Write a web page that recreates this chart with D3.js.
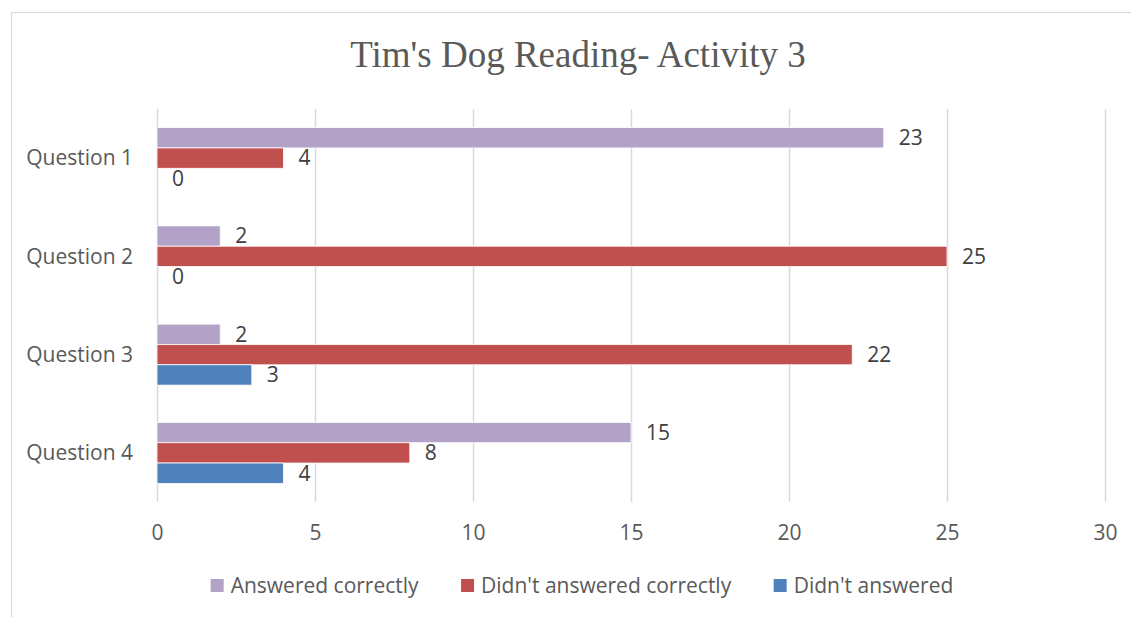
<!DOCTYPE html>
<html>
<head>
<meta charset="utf-8">
<script src="https://cdn.jsdelivr.net/npm/d3@7"></script>
<style>
  body { margin: 0; background: #fff; }
  svg { display: block; }
</style>
</head>
<body>
<script>
// chart data
var questions = ["Question 1", "Question 2", "Question 3", "Question 4"];
var seriesNames = ["Answered correctly", "Didn't answered correctly", "Didn't answered"];
var answeredCorrectly = [23, 2, 2, 15];
var answeredWrong = [4, 25, 22, 8];
var notAnswered = [0, 0, 3, 4];
var seriesColors = ["#b3a2c7", "#c0504d", "#4f81bd"];
var xTicks = [0, 5, 10, 15, 20, 25, 30];

function draw() {
    var width = 1131, height = 617;
    var left = 157, right = 1105, top = 109, bottom = 502;
    var font = "'Open Sans', sans-serif";

    var svg = d3.select("body")
        .append("svg")
        .attr("width", width)
        .attr("height", height);

    // chart border (runs off right and bottom edges)
    svg.append("rect")
        .attr("x", 11.5).attr("y", 12.5)
        .attr("width", 1200).attr("height", 700)
        .attr("fill", "none")
        .attr("stroke", "#d9d9d9")
        .attr("stroke-width", 1.2);

    svg.append("text")
        .attr("x", 578).attr("y", 67)
        .attr("text-anchor", "middle")
        .style("font-family", "'Liberation Serif', 'Times New Roman', serif")
        .style("font-size", "37px")
        .style("fill", "#595959")
        .text("Tim's Dog Reading- Activity 3");

    var x = d3.scaleLinear().domain([0, 30]).range([left, right]);
    var y = d3.scaleBand().domain(questions).range([top, bottom]);
    var inner = d3.scaleBand().domain(seriesNames).range([0, 61]);
    var groupOff = (y.bandwidth() - 61) / 2;

    // gridlines + tick labels
    var xAxis = svg.append("g")
        .attr("transform", "translate(0," + bottom + ")")
        .call(d3.axisBottom(x).tickValues(xTicks).tickSize(-(bottom - top)).tickFormat(d3.format("d")));
    xAxis.select(".domain").remove();
    xAxis.selectAll("line").attr("stroke", "#d9d9d9").attr("stroke-width", 1.5);
    xAxis.selectAll("text")
        .attr("y", 31).attr("dy", "0.35em")
        .style("font-family", font)
        .style("font-size", "21px")
        .style("fill", "#595959");

    var yAxis = svg.append("g")
        .attr("transform", "translate(" + left + ",0)")
        .call(d3.axisLeft(y).tickSize(0).tickPadding(24));
    yAxis.select(".domain").remove();
    yAxis.selectAll("text")
        .attr("dy", "0.35em")
        .style("font-family", font)
        .style("font-size", "21px")
        .style("fill", "#595959");

    var allSeries = [answeredCorrectly, answeredWrong, notAnswered];
    var rows = [];
    allSeries.forEach(function (vals, s) {
        vals.forEach(function (v, i) {
            rows.push({ q: questions[i], s: seriesNames[s], v: v, c: seriesColors[s] });
        });
    });

    var bars = svg.append("g");
    bars.selectAll("rect")
        .data(rows)
        .enter().append("rect")
        .attr("x", x(0))
        .attr("y", function (d) { return y(d.q) + groupOff + inner(d.s); })
        .attr("width", function (d) { return x(d.v) - x(0); })
        .attr("height", inner.bandwidth())
        .attr("fill", function (d) { return d.c; })
        .attr("stroke", "#fff")
        .attr("stroke-width", 0.8);

    bars.selectAll("text")
        .data(rows)
        .enter().append("text")
        .attr("x", function (d) { return x(d.v) + 15; })
        .attr("y", function (d) { return y(d.q) + groupOff + inner(d.s) + inner.bandwidth() / 2; })
        .attr("dy", "0.35em")
        .style("font-family", font)
        .style("font-size", "21px")
        .style("fill", "#404040")
        .text(function (d) { return d.v; });

    // legend, laid out from measured text widths and centred
    var legend = svg.append("g");
    var items = legend.selectAll("g")
        .data(seriesNames)
        .enter().append("g");
    items.append("rect")
        .attr("width", 13).attr("height", 13)
        .attr("y", -7)
        .attr("fill", function (d, i) { return seriesColors[i]; });
    items.append("text")
        .attr("x", 20)
        .attr("dy", "0.35em")
        .style("font-family", font)
        .style("font-size", "21px")
        .style("fill", "#595959")
        .text(function (d) { return d; });
    var cursor = 0;
    items.each(function () {
        var w = this.getBBox().width;
        d3.select(this).attr("transform", "translate(" + cursor + ",0)");
        cursor += w + 42;
    });
    var total = cursor - 42;
    legend.attr("transform", "translate(" + (582 - total / 2) + ",586)");
}

draw();
</script>
</body>
</html>
